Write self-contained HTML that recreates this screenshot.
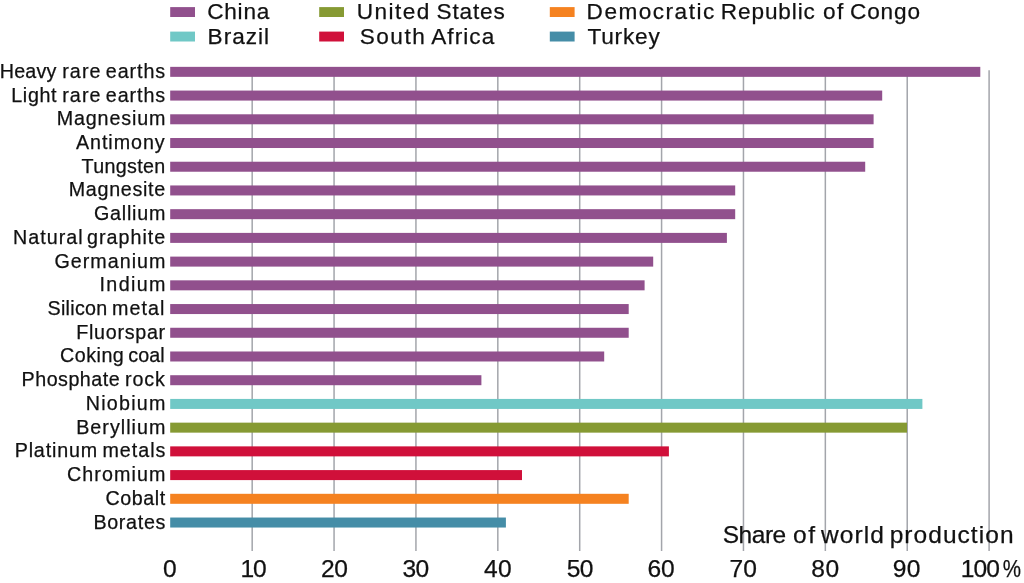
<!DOCTYPE html>
<html lang="en"><head><meta charset="utf-8"><title>Share of world production</title>
<style>html,body{margin:0;padding:0;background:#fff}body{width:1024px;height:583px;overflow:hidden}svg{display:block}text{font-family:'Liberation Sans', sans-serif;fill:#111111;stroke:#111111;stroke-width:0.25}</style></head><body>
<svg width="1024" height="583" viewBox="0 0 1024 583">
<rect width="1024" height="583" fill="#ffffff"/>
<g stroke="#a3a5ab" stroke-width="1.5">
<line x1="252.18" y1="70.2" x2="252.18" y2="551.0"/>
<line x1="334.06" y1="70.2" x2="334.06" y2="551.0"/>
<line x1="415.94" y1="70.2" x2="415.94" y2="551.0"/>
<line x1="497.82" y1="70.2" x2="497.82" y2="551.0"/>
<line x1="579.70" y1="70.2" x2="579.70" y2="551.0"/>
<line x1="661.58" y1="70.2" x2="661.58" y2="551.0"/>
<line x1="743.46" y1="70.2" x2="743.46" y2="551.0"/>
<line x1="825.34" y1="70.2" x2="825.34" y2="551.0"/>
<line x1="907.22" y1="70.2" x2="907.22" y2="551.0"/>
<line x1="989.10" y1="70.2" x2="989.10" y2="551.0"/>
</g>
<text y="77.85" font-size="19.70"><tspan x="-0.33" letter-spacing="0.244">Heavy </tspan><tspan x="62.22" letter-spacing="1.083">rare </tspan><tspan x="105.82" letter-spacing="0.935">earths</tspan></text>
<text y="101.57" font-size="19.70"><tspan x="11.27" letter-spacing="0.656">Light </tspan><tspan x="62.22" letter-spacing="1.083">rare </tspan><tspan x="105.82" letter-spacing="0.935">earths</tspan></text>
<text y="125.29" font-size="19.70"><tspan x="56.78" letter-spacing="0.853">Magnesium</tspan></text>
<text y="149.01" font-size="19.70"><tspan x="75.97" letter-spacing="0.946">Antimony</tspan></text>
<text y="172.73" font-size="19.70"><tspan x="81.60" letter-spacing="0.339">Tungsten</tspan></text>
<text y="196.45" font-size="19.70"><tspan x="68.78" letter-spacing="0.703">Magnesite</tspan></text>
<text y="220.17" font-size="19.70"><tspan x="94.00" letter-spacing="0.767">Gallium</tspan></text>
<text y="243.89" font-size="19.70"><tspan x="12.97" letter-spacing="1.033">Natural </tspan><tspan x="87.12" letter-spacing="1.004">graphite</tspan></text>
<text y="267.61" font-size="19.70"><tspan x="54.50" letter-spacing="1.012">Germanium</tspan></text>
<text y="291.33" font-size="19.70"><tspan x="99.53" letter-spacing="1.365">Indium</tspan></text>
<text y="315.05" font-size="19.70"><tspan x="47.62" letter-spacing="0.254">Silicon </tspan><tspan x="112.03" letter-spacing="1.075">metal</tspan></text>
<text y="338.77" font-size="19.70"><tspan x="76.17" letter-spacing="0.731">Fluorspar</tspan></text>
<text y="362.49" font-size="19.70"><tspan x="60.10" letter-spacing="0.480">Coking </tspan><tspan x="128.32" letter-spacing="0.042">coal</tspan></text>
<text y="386.21" font-size="19.70"><tspan x="21.58" letter-spacing="0.484">Phosphate </tspan><tspan x="125.12" letter-spacing="0.817">rock</tspan></text>
<text y="409.93" font-size="19.70"><tspan x="85.67" letter-spacing="1.258">Niobium</tspan></text>
<text y="433.65" font-size="19.70"><tspan x="76.17" letter-spacing="1.037">Beryllium</tspan></text>
<text y="457.37" font-size="19.70"><tspan x="14.67" letter-spacing="0.854">Platinum </tspan><tspan x="102.43" letter-spacing="1.005">metals</tspan></text>
<text y="481.09" font-size="19.70"><tspan x="67.00" letter-spacing="1.100">Chromium</tspan></text>
<text y="504.81" font-size="19.70"><tspan x="105.50" letter-spacing="0.550">Cobalt</tspan></text>
<text y="528.53" font-size="19.70"><tspan x="93.38" letter-spacing="0.700">Borates</tspan></text>
<text y="19.40" font-size="22.60"><tspan x="207.18" letter-spacing="0.781">China</tspan></text>
<text y="43.70" font-size="22.60"><tspan x="207.62" letter-spacing="0.995">Brazil</tspan></text>
<text y="19.40" font-size="22.60"><tspan x="356.64" letter-spacing="1.500">United </tspan><tspan x="436.50" letter-spacing="0.830">States</tspan></text>
<text y="43.70" font-size="22.60"><tspan x="359.69" letter-spacing="1.500">South </tspan><tspan x="431.18" letter-spacing="1.055">Africa</tspan></text>
<text y="19.40" font-size="22.60"><tspan x="586.62" letter-spacing="1.483">Democratic </tspan><tspan x="720.83" letter-spacing="0.875">Republic </tspan><tspan x="822.96" letter-spacing="1.500">of </tspan><tspan x="849.98" letter-spacing="0.875">Congo</tspan></text>
<text y="43.70" font-size="22.60"><tspan x="587.50" letter-spacing="0.795">Turkey</tspan></text>
<text y="576.90" font-size="24.60"><tspan x="162.88" letter-spacing="0.000">0</tspan></text>
<text y="576.90" font-size="24.60"><tspan x="240.38" letter-spacing="-1.000">10</tspan></text>
<text y="576.90" font-size="24.60"><tspan x="321.05" letter-spacing="-0.525">20</tspan></text>
<text y="576.90" font-size="24.60"><tspan x="402.40" letter-spacing="-0.475">30</tspan></text>
<text y="576.90" font-size="24.60"><tspan x="484.00" letter-spacing="0.400">40</tspan></text>
<text y="576.90" font-size="24.60"><tspan x="566.70" letter-spacing="-0.675">50</tspan></text>
<text y="576.90" font-size="24.60"><tspan x="647.45" letter-spacing="-0.125">60</tspan></text>
<text y="576.90" font-size="24.60"><tspan x="729.45" letter-spacing="0.025">70</tspan></text>
<text y="576.90" font-size="24.60"><tspan x="811.35" letter-spacing="0.400">80</tspan></text>
<text y="576.90" font-size="24.60"><tspan x="892.65" letter-spacing="0.400">90</tspan></text>
<text y="576.90" font-size="24.60"><tspan x="960.81" letter-spacing="-1.000">100</tspan><tspan x="1002.77" textLength="18.26" lengthAdjust="spacingAndGlyphs">%</tspan></text>
<text y="542.70" font-size="24.50"><tspan x="722.67" letter-spacing="-0.456">Share </tspan><tspan x="793.10" letter-spacing="1.500">of </tspan><tspan x="821.00" letter-spacing="1.100">world </tspan><tspan x="889.67" letter-spacing="1.050">production</tspan></text>
<rect x="170.20" y="66.85" width="810.10" height="10.00" fill="#91508d"/>
<rect x="170.20" y="90.57" width="712.00" height="10.00" fill="#91508d"/>
<rect x="170.20" y="114.29" width="703.40" height="10.00" fill="#91508d"/>
<rect x="170.20" y="138.01" width="703.40" height="10.00" fill="#91508d"/>
<rect x="170.20" y="161.73" width="695.00" height="10.00" fill="#91508d"/>
<rect x="170.20" y="185.45" width="565.00" height="10.00" fill="#91508d"/>
<rect x="170.20" y="209.17" width="565.00" height="10.00" fill="#91508d"/>
<rect x="170.20" y="232.89" width="556.70" height="10.00" fill="#91508d"/>
<rect x="170.20" y="256.61" width="483.00" height="10.00" fill="#91508d"/>
<rect x="170.20" y="280.33" width="474.40" height="10.00" fill="#91508d"/>
<rect x="170.20" y="304.05" width="458.50" height="10.00" fill="#91508d"/>
<rect x="170.20" y="327.77" width="458.50" height="10.00" fill="#91508d"/>
<rect x="170.20" y="351.49" width="434.00" height="10.00" fill="#91508d"/>
<rect x="170.20" y="375.21" width="311.20" height="10.00" fill="#91508d"/>
<rect x="170.20" y="398.93" width="752.20" height="10.00" fill="#70c8c6"/>
<rect x="170.20" y="422.65" width="736.80" height="10.00" fill="#869a33"/>
<rect x="170.20" y="446.37" width="498.70" height="10.00" fill="#d0103a"/>
<rect x="170.20" y="470.09" width="351.80" height="10.00" fill="#d0103a"/>
<rect x="170.20" y="493.81" width="458.50" height="10.00" fill="#f58220"/>
<rect x="170.20" y="517.53" width="335.70" height="10.00" fill="#458da7"/>
<rect x="170.20" y="7.10" width="24.8" height="9.9" fill="#91508d"/>
<rect x="170.20" y="31.60" width="24.8" height="9.9" fill="#70c8c6"/>
<rect x="319.20" y="7.10" width="24.8" height="9.9" fill="#869a33"/>
<rect x="319.20" y="31.60" width="24.8" height="9.9" fill="#d0103a"/>
<rect x="549.80" y="7.10" width="24.8" height="9.9" fill="#f58220"/>
<rect x="549.80" y="31.60" width="24.8" height="9.9" fill="#458da7"/>
</svg></body></html>
